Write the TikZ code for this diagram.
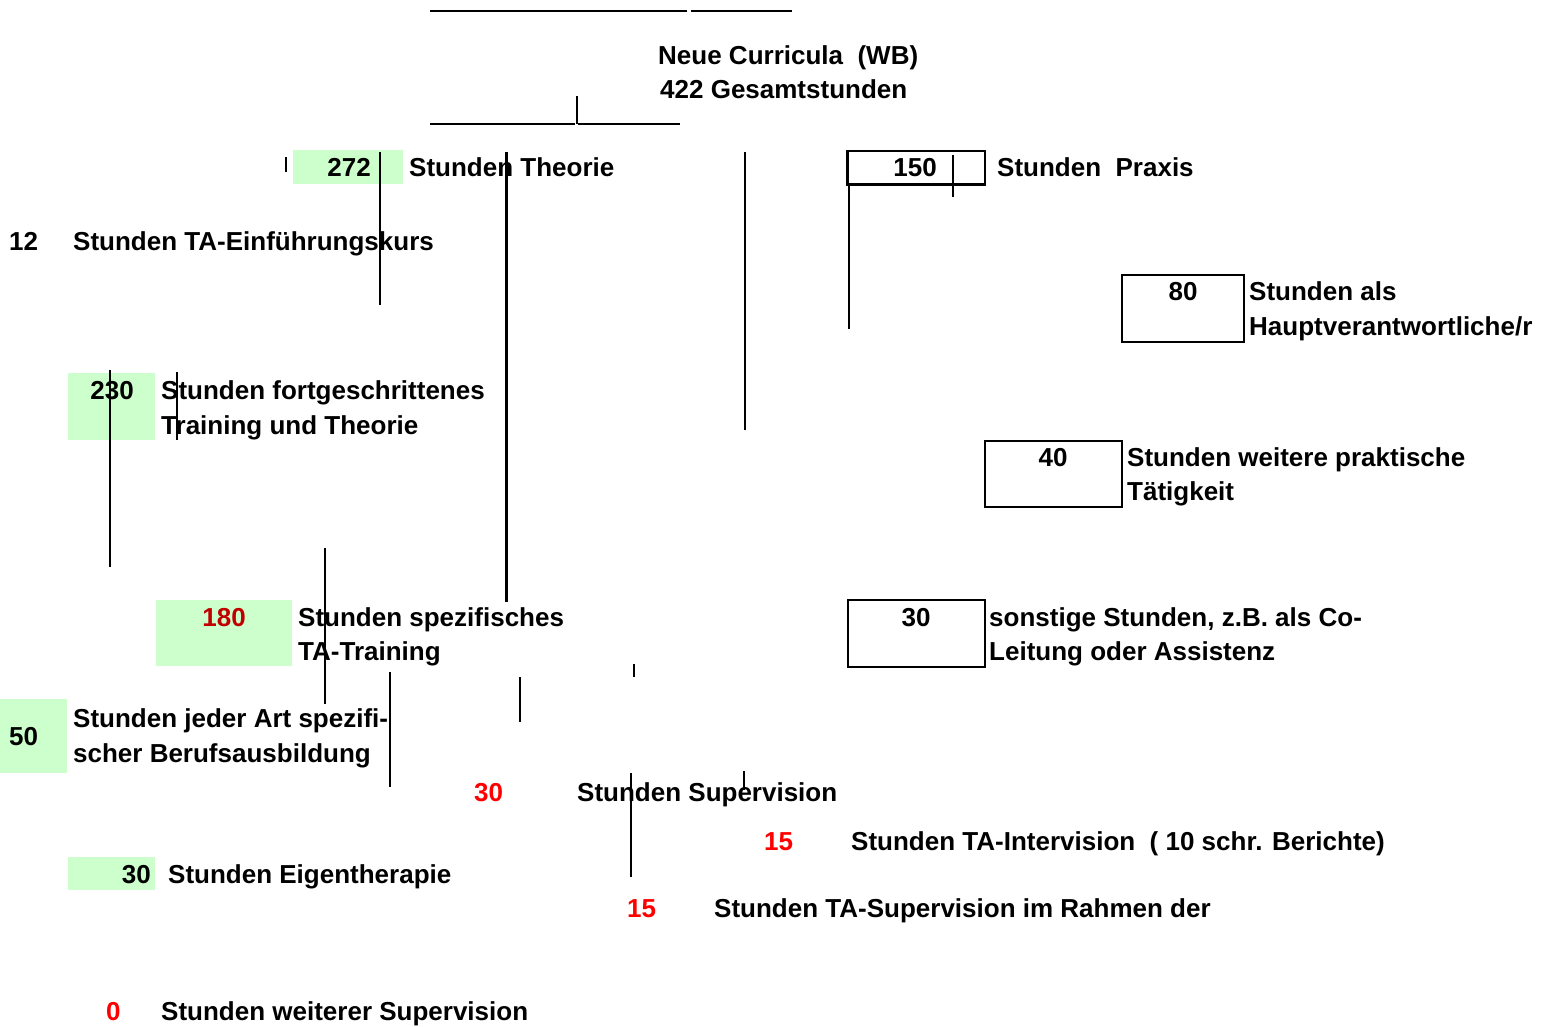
\documentclass[tikz,border=0pt]{standalone}
\usepackage{fontspec}
\setmainfont{Liberation Sans}
\definecolor{cellGreen}{HTML}{CCFFCC}
\definecolor{darkRed}{HTML}{C00000}
\definecolor{brightRed}{HTML}{FF0000}
\tikzset{
	lbl/.style={anchor=base west, inner sep=0pt, font=\fontsize{26}{34}\selectfont\bfseries},
	numR/.style={lbl, anchor=base east},
	numC/.style={lbl, anchor=base},
	greenCell/.style={rectangle, fill=cellGreen, anchor=north west, inner sep=0pt},
	whiteCell/.style={rectangle, draw=black, line width=1.5pt, anchor=north west, inner sep=0pt},
	stray/.style={line width=2pt}
}
\begin{document}
\begin{tikzpicture}[x=1pt, y=-1pt]
	\useasboundingbox (0,0) rectangle (1544,1026);

	% cells behind the numbers
	\node[greenCell, minimum width=110pt, minimum height=34pt](theoCell) at (293,150){};
	\node[greenCell, minimum width=87pt, minimum height=67pt](fortCell) at (68,373){};
	\node[greenCell, minimum width=136pt, minimum height=66pt](specCell) at (156,600){};
	\node[greenCell, minimum width=67pt, minimum height=74pt](berufCell) at (0,699){};
	\node[greenCell, minimum width=87pt, minimum height=33pt](eigenCell) at (68,857){};

	\node[whiteCell, minimum width=137pt, minimum height=33pt](praxCell) at (847,150){};
	\node[whiteCell, minimum width=122pt, minimum height=67pt](hauptCell) at (1121,274){};
	\node[whiteCell, minimum width=137pt, minimum height=66pt](weitCell) at (984,440){};
	\node[whiteCell, minimum width=137pt, minimum height=67pt](sonstCell) at (847,599){};
	\draw[line width=3pt] (praxCell.north west) -- (praxCell.south west) -- (praxCell.south east);

	% title
	\node[lbl](titleA) at (658,64){Neue Curricula\ \ (WB)};
	\node[lbl](titleB) at (660,98){422 Gesamtstunden};

	% left side
	\node[numR](theoNum) at (371,176){272};
	\node[lbl](theoTxt) at (409,176){Stunden Theorie};
	\node[lbl](einfNum) at (9,250){12};
	\node[lbl](einfTxt) at (73,250){Stunden TA-Einführungskurs};
	\node[numR](fortNum) at (134,399){230};
	\node[lbl](fortTxtA) at (161,399){Stunden fortgeschrittenes};
	\node[lbl](fortTxtB) at (161,434){Training und Theorie};
	\node[numR, text=darkRed](specNum) at (246,626){180};
	\node[lbl](specTxtA) at (298,626){Stunden spezifisches};
	\node[lbl](specTxtB) at (298,660){TA-Training};
	\node[lbl](berufNum) at (9,745){50};
	\node[lbl](berufTxtA) at (73,727){Stunden jeder Art spezifi-};
	\node[lbl](berufTxtB) at (73,762){scher Berufsausbildung};
	\node[numR](eigenNum) at (151,883){30};
	\node[lbl](eigenTxt) at (168,883){Stunden Eigentherapie};
	\node[lbl, text=brightRed](weiterNum) at (106,1020){0};
	\node[lbl](weiterTxt) at (161,1020){Stunden weiterer Supervision};

	% supervision
	\node[lbl, text=brightRed](supNum) at (474,801){30};
	\node[lbl](supTxt) at (577,801){Stunden Supervision};
	\node[lbl, text=brightRed](interNum) at (764,850){15};
	\node[lbl](interTxt) at (851,850){Stunden TA-Intervision\ \ ( 10 schr. Berichte)};
	\node[lbl, text=brightRed](rahmenNum) at (627,917){15};
	\node[lbl](rahmenTxt) at (714,917){Stunden TA-Supervision im Rahmen der};

	% right side
	\node[numR](praxNum) at (937,176){150};
	\node[lbl](praxTxt) at (997,176){Stunden\ \ Praxis};
	\node[numC](hauptNum) at (1183,300){80};
	\node[lbl](hauptTxtA) at (1249,300){Stunden als};
	\node[lbl](hauptTxtB) at (1249,335){Hauptverantwortliche/r};
	\node[numC](weitNum) at (1053,466){40};
	\node[lbl](weitTxtA) at (1127,466){Stunden weitere praktische};
	\node[lbl](weitTxtB) at (1127,500){Tätigkeit};
	\node[numC](sonstNum) at (916,626){30};
	\node[lbl](sonstTxtA) at (989,626){sonstige Stunden, z.B. als Co-};
	\node[lbl](sonstTxtB) at (989,660){Leitung oder Assistenz};

	% loose strokes
	\draw[stray] (430,11) -- (687,11);
	\draw[stray] (691,11) -- (792,11);
	\draw[stray] (430,124) -- (575,124);
	\draw[stray] (578,124) -- (680,124);
	\draw[stray] (577,96) -- (577,124);
	\draw[line width=2.5pt] (286,157) -- (286,172);
	\draw[line width=1.2pt] (380,152) -- (380,305);
	\draw[line width=3pt] (506,152) -- (506,602);
	\draw[stray] (745,152) -- (745,430);
	\draw[stray] (849,183) -- (849,329);
	\draw[line width=1.2pt] (953,155) -- (953,197);
	\draw[stray] (110,370) -- (110,567);
	\draw[line width=1.2pt] (177,372) -- (177,440);
	\draw[line width=1.2pt] (325,548) -- (325,704);
	\draw[stray] (390,672) -- (390,787);
	\draw[stray] (520,677) -- (520,722);
	\draw[stray] (634,664) -- (634,677);
	\draw[stray] (631,773) -- (631,877);
	\draw[line width=1.2pt] (744,771) -- (744,790);
\end{tikzpicture}
\end{document}
